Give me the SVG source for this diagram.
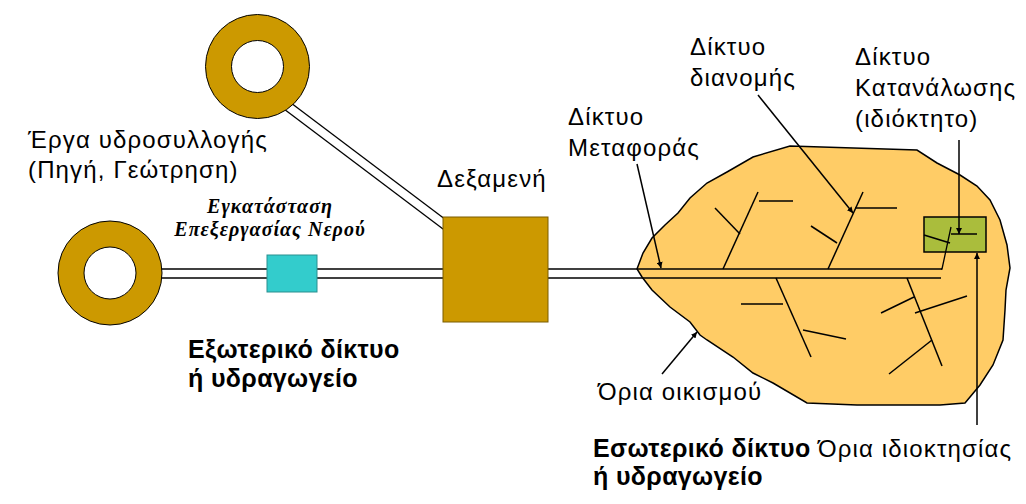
<svg xmlns="http://www.w3.org/2000/svg" width="1026" height="504" viewBox="0 0 1026 504">
<style>
.t{font-family:"Liberation Sans",Arial,sans-serif;font-size:24px;letter-spacing:1.15px;fill:#000}
.b{font-family:"Liberation Sans",Arial,sans-serif;font-size:25px;font-weight:bold;letter-spacing:0.35px;fill:#000}
.i{font-family:"Liberation Serif","Times New Roman",serif;font-size:20px;font-weight:bold;font-style:italic;letter-spacing:1px;fill:#000;text-anchor:middle}
.ln{stroke:#000;stroke-width:1.5;fill:none}
.pipe{stroke:#000;stroke-width:1.3;fill:none}
.ar{stroke:#000;stroke-width:1.5;fill:none;marker-end:url(#ah)}
.ring{fill:#CC9900;stroke:#000;stroke-width:1}
.hole{fill:#fff;stroke:#000;stroke-width:1}
</style>
<defs>
<marker id="ah" viewBox="0 0 10 10" refX="10" refY="5" markerWidth="6" markerHeight="6" orient="auto" markerUnits="userSpaceOnUse">
<path d="M0,0 L10,5 L0,10 z" fill="#000"/>
</marker>
</defs>
<g id="connectors">
<line class="pipe" x1="150" y1="269" x2="450" y2="269"/>
<line class="pipe" x1="150" y1="278" x2="450" y2="278"/>
<line class="pipe" x1="278" y1="104.5" x2="446" y2="231.3"/>
<line class="pipe" x1="283.4" y1="97.3" x2="451.4" y2="224.1"/>
</g>
<g id="settlement">
<path d="M637,269 L643,253 L652,238 L665,225 L678,213 L690,198 L707,183 L727,172 L753,157 L790,146 L917,150 L937,163 L960,175 L977,186 L990,200 L1000,220 L1007,245 L1010,268 L1006,290 L1005,310 L1003,340 L993,365 L980,385 L965,403 L940,405 L857,405 L807,403 L773,383 L753,373 L733,357 L707,340 L700,335 L690,322 L670,307 L652,290 L642,277 Z" fill="#FFCC66" stroke="#000" stroke-width="1.5"/>
</g>
<g id="network">
<line class="pipe" x1="540" y1="269" x2="942" y2="269"/>
<line class="pipe" x1="540" y1="278" x2="941" y2="278"/>
<line class="ln" x1="758" y1="192" x2="723" y2="269"/>
<line class="ln" x1="759" y1="201" x2="793" y2="201"/>
<line class="ln" x1="715" y1="208" x2="740" y2="234"/>
<line class="ln" x1="863" y1="192" x2="828" y2="269"/>
<line class="ln" x1="855" y1="208" x2="897" y2="208"/>
<line class="ln" x1="811" y1="226" x2="837" y2="243"/>
<line class="ln" x1="776" y1="278" x2="811" y2="357"/>
<line class="ln" x1="741" y1="304" x2="783" y2="304"/>
<line class="ln" x1="803" y1="330" x2="846" y2="339"/>
<line class="ln" x1="907" y1="278" x2="942" y2="366"/>
<line class="ln" x1="881" y1="313" x2="914" y2="297"/>
<line class="ln" x1="915" y1="313" x2="967" y2="296"/>
<line class="ln" x1="889" y1="374" x2="932" y2="340"/>
</g>
<g id="property">
<rect x="924" y="217" width="62" height="35" fill="#AABD3C" stroke="#000" stroke-width="1.5"/>
<line class="ln" x1="951" y1="234" x2="977" y2="234"/>
<line class="ln" x1="924" y1="235" x2="950" y2="243"/>
<polyline class="pipe" points="941,269 942,269 951,227"/>
</g>
<g id="ring-top">
<circle class="ring" cx="257.5" cy="66.5" r="52"/>
<circle class="hole" cx="257.5" cy="66.5" r="26"/>
</g>
<g id="ring-left">
<circle class="ring" cx="110" cy="273" r="52"/>
<circle class="hole" cx="110" cy="273" r="26"/>
</g>
<g id="treatment">
<rect x="267" y="255" width="50" height="37" fill="#33CCCC" stroke="#2a8f8f" stroke-width="1"/>
</g>
<g id="reservoir">
<rect x="443" y="217" width="105" height="105" fill="#CC9900" stroke="#7a5c00" stroke-width="1"/>
</g>
<g id="arrows">
<line class="ar" x1="637" y1="164" x2="661" y2="268"/>
<line class="ar" x1="758" y1="95" x2="853" y2="213"/>
<line class="ar" x1="959" y1="140" x2="959" y2="234"/>
<line class="ar" x1="662" y1="374" x2="697" y2="332"/>
<line class="ar" x1="977" y1="425" x2="977" y2="253"/>
</g>
<g id="labels">
<text class="t" x="28" y="148">Έργα υδροσυλλογής</text>
<text class="t" x="28" y="178">(Πηγή, Γεώτρηση)</text>
<text class="t" x="437" y="187">Δεξαμενή</text>
<text class="i" x="270" y="213">Εγκατάσταση</text>
<text class="i" x="270" y="236">Επεξεργασίας Νερού</text>
<text class="b" x="188" y="358">Εξωτερικό δίκτυο</text>
<text class="b" x="188" y="387">ή υδραγωγείο</text>
<text class="t" x="690" y="55">Δίκτυο</text>
<text class="t" x="690" y="86">διανομής</text>
<text class="t" x="855" y="65">Δίκτυο</text>
<text class="t" x="855" y="96">Κατανάλωσης</text>
<text class="t" x="855" y="127">(ιδιόκτητο)</text>
<text class="t" x="568" y="125">Δίκτυο</text>
<text class="t" x="568" y="156">Μεταφοράς</text>
<text class="t" x="598" y="400">Όρια οικισμού</text>
<text class="b" x="593" y="457">Εσωτερικό δίκτυο</text>
<text class="b" x="593" y="485">ή υδραγωγείο</text>
<text class="t" x="818" y="457">Όρια ιδιοκτησίας</text>
</g>
</svg>
